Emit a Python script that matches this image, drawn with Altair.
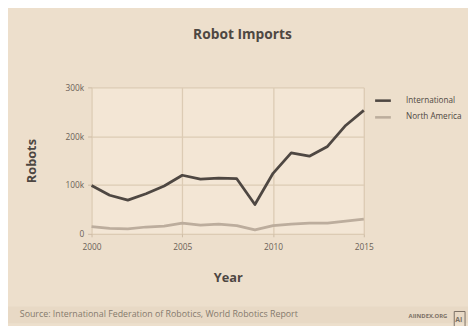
import altair as alt
import pandas as pd

years = list(range(2000, 2016))
international = [99, 79, 69, 82, 98, 120, 112, 114, 113, 60, 124, 166, 159, 179, 222, 253]
north_america = [15, 11, 10, 14, 16, 22, 18, 20, 17, 8, 17, 20, 22, 22, 26, 30]
series_names = ["International", "North America"]
series_colors = ["#4E4742", "#BCAD9D"]

rows = []
for y, a, b in zip(years, international, north_america):
    rows.append({"Year": y, "Series": series_names[0], "Robots": a * 1000})
    rows.append({"Year": y, "Series": series_names[1], "Robots": b * 1000})
df = pd.DataFrame(rows)

FONT = "Open Sans"
W, H = 277, 149

lines = alt.Chart(df).mark_line(strokeWidth=2.8, strokeJoin="round").encode(
    x=alt.X("Year:Q", scale=alt.Scale(domain=[2000, 2015], nice=False, zero=False),
            axis=alt.Axis(values=[2000, 2005, 2010, 2015], format="d", title="Year",
                          titleX=W / 2, titleY=45, titleBaseline="middle",
                          labelPadding=6, tickSize=3, domain=False, labelFlush=False)),
    y=alt.Y("Robots:Q", scale=alt.Scale(domain=[0, 300000], nice=False),
            axis=alt.Axis(values=[0, 100000, 200000, 300000],
                          labelExpr="datum.value === 0 ? '0' : (datum.value / 1000) + 'k'",
                          title="Robots",
                          titleX=-61, titleY=H / 2, titleBaseline="middle", titleAlign="center",
                          labelPadding=4, tickSize=4, domain=False, labelFlush=False)),
    color=alt.Color("Series:N", scale=alt.Scale(domain=series_names, range=series_colors),
                    legend=alt.Legend(title=None, orient="none", legendX=287, legendY=4,
                                      symbolType="stroke", symbolSize=256, symbolStrokeWidth=2.6,
                                      labelFontSize=8.3, labelColor="#4E4742", labelFont=FONT,
                                      labelOffset=14, rowPadding=2)),
)

footer_band = alt.Chart(pd.DataFrame({"a": [0]})).mark_rect(color="#E8D9C5").encode(
    x=alt.value(-85), x2=alt.value(383), y=alt.value(223), y2=alt.value(240)
)

source = alt.Chart(pd.DataFrame({"t": ["Source: International Federation of Robotics, World Robotics Report"]})).mark_text(
    align="left", baseline="middle", fontSize=9, font=FONT, color="#857A6D"
).encode(x=alt.value(-73), y=alt.value(231), text="t:N")

brand = alt.Chart(pd.DataFrame({"t": ["AIINDEX.ORG"]})).mark_text(
    align="right", baseline="middle", fontSize=6, font=FONT, fontWeight="bold", color="#7A6F64"
).encode(x=alt.value(362), y=alt.value(233), text="t:N")

logo_box = alt.Chart(pd.DataFrame({"a": [0]})).mark_rect(fill=None, stroke="#7A6F64", strokeWidth=1).encode(
    x=alt.value(369), x2=alt.value(380), y=alt.value(228), y2=alt.value(245)
)
logo_text = alt.Chart(pd.DataFrame({"t": ["AI"]})).mark_text(
    align="left", baseline="middle", fontSize=7, font=FONT, fontWeight="bold", color="#7A6F64"
).encode(x=alt.value(370), y=alt.value(237), text="t:N")

chart = alt.layer(footer_band, lines, source, brand, logo_box, logo_text).properties(
    width=W, height=H,
    background="#EDDFCC",
    padding={"left": 85, "top": 78, "right": 106, "bottom": 91},
    autosize=alt.AutoSizeParams(type="none"),
    title=alt.TitleParams("Robot Imports", anchor="middle", frame="group", dx=15, offset=42,
                          fontSize=14, font=FONT, fontWeight="bold", color="#4E4742"),
).configure_view(
    fill="#F3E6D5", stroke=None
).configure_axis(
    gridColor="#DCCBB4", gridWidth=1.3, gridOpacity=1,
    tickColor="#CDBBA3", labelColor="#6B6157", labelFont=FONT, labelFontSize=8.5,
    titleFont=FONT, titleFontSize=13, titleFontWeight="bold", titleColor="#4E4742",
)

chart.save("out.html", embed_options={"renderer": "svg", "actions": False})
